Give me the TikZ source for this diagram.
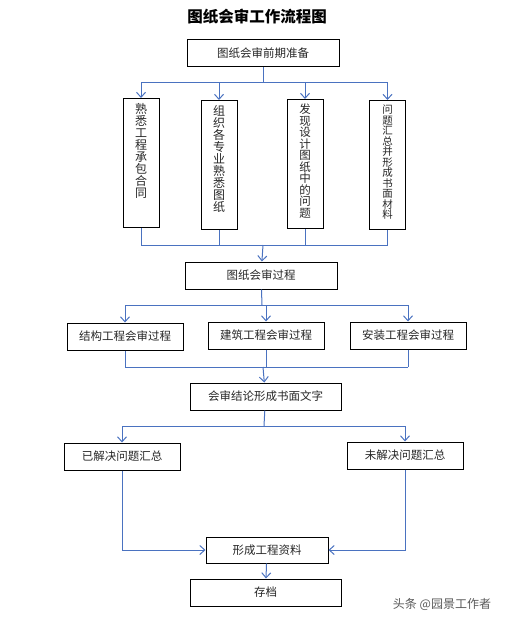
\documentclass[tikz,border=0pt]{standalone}
\usepackage{fontspec}
\setmainfont{Noto Sans CJK SC}
\usepackage{xcolor}
\usetikzlibrary{arrows.meta}
\definecolor{linkblue}{HTML}{4A72C0}

\begin{document}
\begin{tikzpicture}[x=1pt,y=-1pt,
    box/.style={draw, line width=1pt, minimum height=27pt, inner sep=0pt,
        font=\fontsize{11.5}{13}\selectfont, text=black!85},
    vbox/.style={draw, line width=1pt, minimum width=36pt, minimum height=129pt, anchor=north},
    vtext/.style={anchor=north, align=center, inner sep=0pt, text=black!85},
    link/.style={linkblue, line width=1pt},
    arr/.style={link, -{Straight Barb[length=5pt,width=9pt]}}]
    \useasboundingbox (0,0) rectangle (506,623);

    % title
    \node[font=\fontsize{15.5}{17}\selectfont\bfseries] (title) at (257,17) {图纸会审工作流程图};

    % boxes
    \node[box, minimum width=152pt] (prep) at (263,53.5) {图纸会审前期准备};
    \foreach \x/\y/\n/\s/\t in {
        141/98/p1/12/{熟\\悉\\工\\程\\承\\包\\合\\同},
        219/100/p2/12/{组\\织\\各\\专\\业\\熟\\悉\\图\\纸},
        305/99/p3/11.5/{发\\现\\设\\计\\图\\纸\\中\\的\\问\\题},
        387.5/100/p4/10.5/{问\\题\\汇\\总\\并\\形\\成\\书\\面\\材\\料}}{
        \node[vbox] (\n) at (\x,\y) {};
        \node[vtext, font=\fontsize{\s}{\s}\selectfont] at ([yshift=-5pt]\n.north) {\t};
    }
    \node[box, minimum width=152pt] (proc) at (261,275.5) {图纸会审过程};
    \node[box, minimum width=116pt] (s1) at (125,336.5) {结构工程会审过程};
    \node[box, minimum width=116pt] (s2) at (266,335.5) {建筑工程会审过程};
    \node[box, minimum width=116pt] (s3) at (408,335.5) {安装工程会审过程};
    \node[box, minimum width=151pt] (concl) at (265.5,396.5) {会审结论形成书面文字};
    \node[box, minimum width=116pt] (ok) at (122,456.5) {已解决问题汇总};
    \node[box, minimum width=116pt] (nok) at (405,455.5) {未解决问题汇总};
    \node[box, minimum width=122pt, minimum height=26pt] (data) at (267,550) {形成工程资料};
    \node[box, minimum width=151pt] (arch) at (265.5,592.5) {存档};

    % junctions
    \coordinate (j1) at (263,83);
    \coordinate (j2) at (263,245);
    \coordinate (j3) at (262,305);
    \coordinate (j4) at (263,367);
    \coordinate (j5) at (264,426);

    % connectors
    \draw[link] (prep) -- (j1);
    \draw[link] (j1 -| p1) -- (j1 -| p4);
    \foreach \n in {p1,p2,p3,p4}{
        \draw[arr] (j1 -| \n) -- (\n);
        \draw[link] (\n) -- (j2 -| \n);
    }
    \draw[link] (j2 -| p1) -- (j2 -| p4);
    \draw[arr] (j2) -- (proc);

    \draw[link] (proc) -- (j3);
    \draw[link] (j3 -| s1) -- (j3 -| s3);
    \foreach \n in {s1,s2,s3}{
        \draw[arr] (j3 -| \n) -- (\n);
        \draw[link] (\n) -- (j4 -| \n);
    }
    \draw[link] (j4 -| s1) -- (j4 -| s3);
    \draw[arr] (j4) -- (concl);

    \draw[link] (concl) -- (j5);
    \draw[link] (j5 -| ok) -- (j5 -| nok);
    \draw[arr] (j5 -| ok) -- (ok);
    \draw[arr] (j5 -| nok) -- (nok);

    \draw[arr] (ok) |- (data);
    \draw[arr] (nok) |- (data);
    \draw[arr] (data) -- (arch);

    % watermark
    \node[text=black!65, font=\fontsize{12}{13}\selectfont] (mark) at (442,604) {头条 @园景工作者};
\end{tikzpicture}
\end{document}
